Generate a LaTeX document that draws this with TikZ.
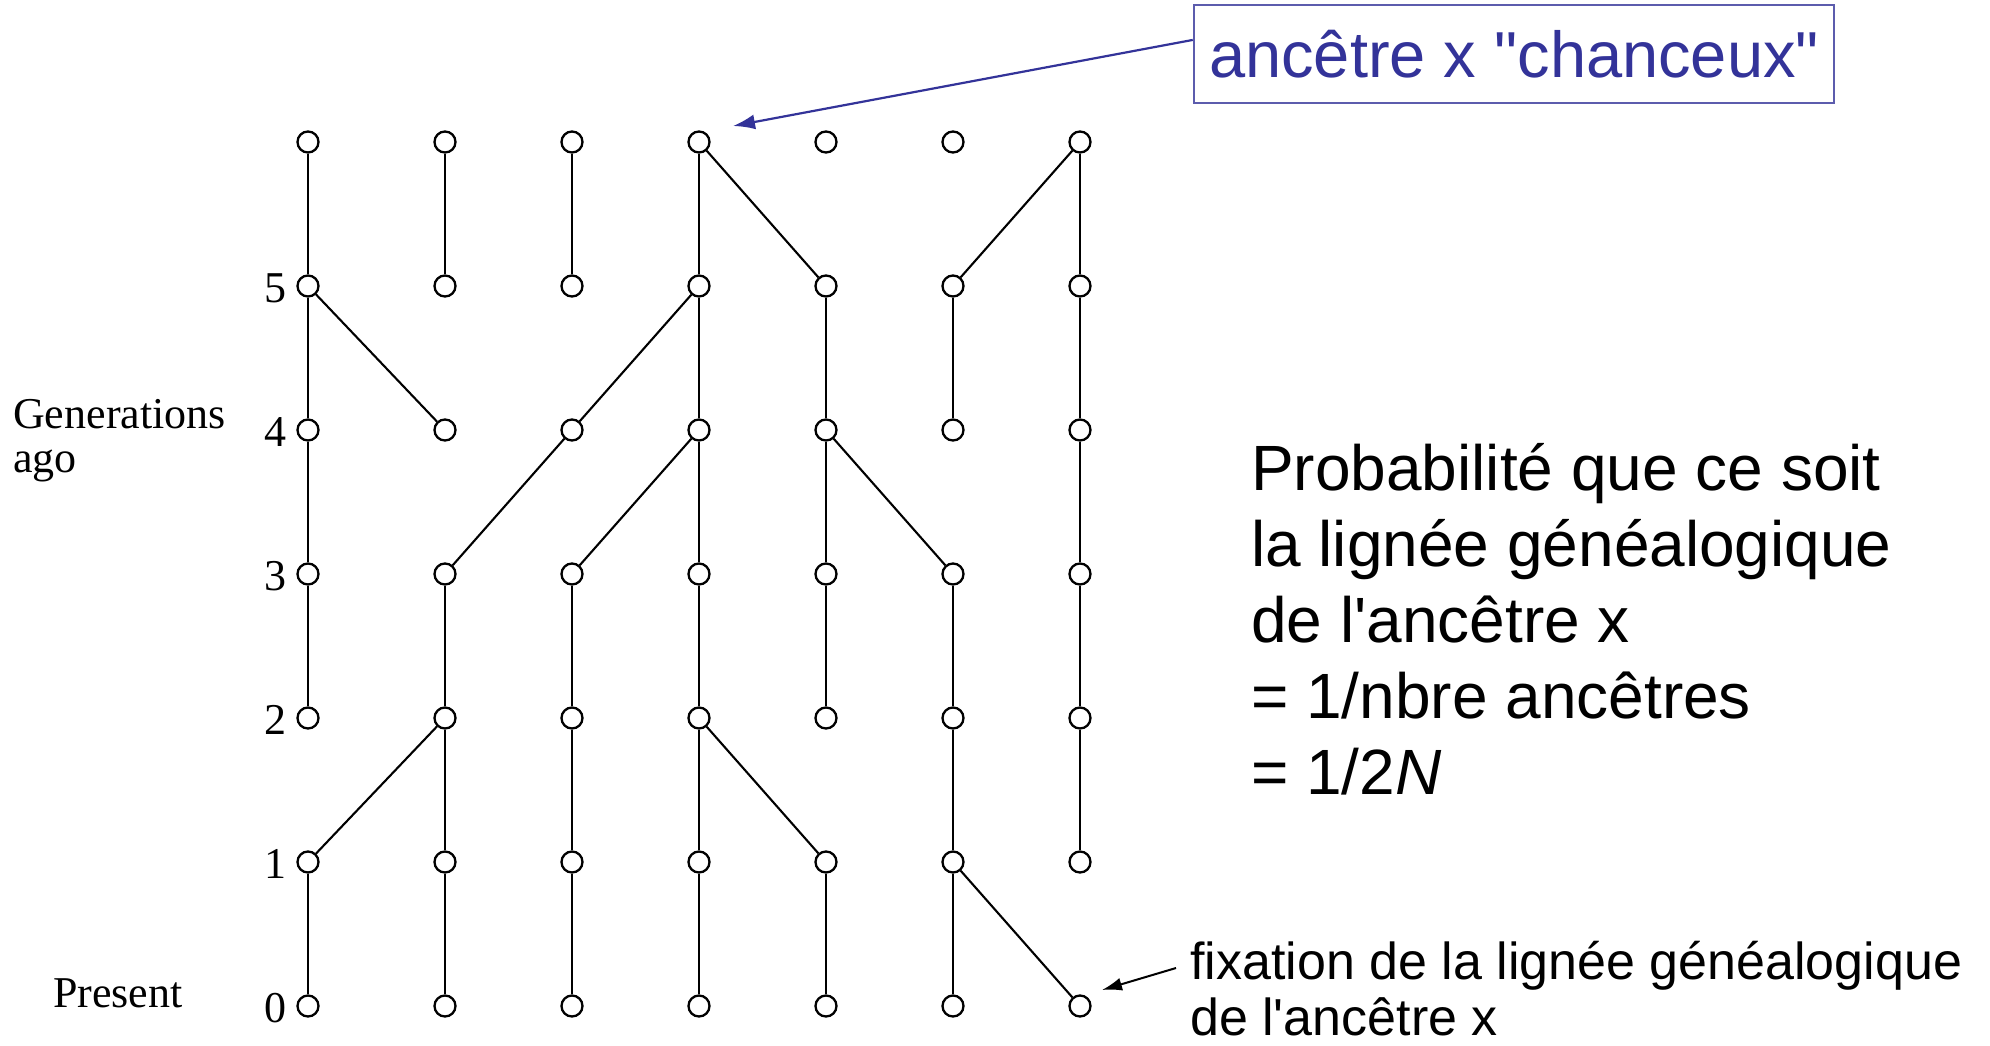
\documentclass[tikz,border=0pt]{standalone}
\usepackage{fontspec}
\setmainfont{Liberation Serif}
\newfontfamily\arial{Liberation Sans}
\usetikzlibrary{arrows.meta,calc}
\definecolor{pptblue}{HTML}{333399}
\begin{document}
\begin{tikzpicture}[x=1pt,y=-1pt,
  indiv/.style={circle,draw,line width=2.3pt,minimum size=21pt,inner sep=0pt},
  lin/.style={line width=2.1pt},
  gen/.style={font=\fontsize{44}{48}\selectfont,anchor=base east,inner sep=0pt},
  side/.style={font=\fontsize{44}{48}\selectfont,anchor=base west,inner sep=0pt},
  prob/.style={font=\arial\fontsize{64}{76}\selectfont,anchor=base west,inner sep=0pt},
  fixt/.style={font=\arial\fontsize{52}{60}\selectfont,anchor=base west,inner sep=0pt}]
\useasboundingbox (0,0) rectangle (1990,1045);

% individuals
\foreach \c/\x in {1/308,2/445,3/572,4/699,5/826,6/953,7/1080}
  \foreach \r in {0,...,6}
    \node[indiv] (n\c\r) at (\x,{142+144*(6-\r)}) {};

% genealogy links
\foreach \a/\b in {16/15,26/25,36/35,46/45,46/55,76/65,76/75,
                   15/14,15/24,45/34,45/44,55/54,65/64,75/74,
                   14/13,34/23,44/33,44/43,54/53,54/63,74/73,
                   13/12,23/22,33/32,43/42,53/52,63/62,73/72,
                   22/11,22/21,32/31,42/41,42/51,62/61,72/71,
                   11/10,21/20,31/30,41/40,51/50,61/60,61/70}
  \draw[lin] (n\a) -- (n\b);

% generation numbers
\foreach \r in {0,...,5}
  \node[gen] (g\r) at (287,{142+144*(6-\r)+16}) {\r};

\node[side] (gen1) at (13,428) {Generations};
\node[side] (gen2) at (13,472) {ago};
\node[side] (pres) at (53,1007) {Present};

% lucky ancestor box
\node[draw=pptblue!80,line width=2.5pt,text=pptblue,
      font=\arial\fontsize{65}{76}\selectfont,
      minimum width=640pt,minimum height=98pt,inner sep=0pt] (lucky) at (1514,54) {ancêtre x "chanceux"};
\coordinate (tipA) at (733,126);
\draw[pptblue,line width=2.2pt,-{Latex[length=22pt,width=15pt]}]
  ($(lucky.north west)!0.36!(lucky.south west)$) -- (tipA);

% probability text
\node[prob] (p1) at (1251,490) {Probabilité que ce soit};
\node[prob] (p2) at (1251,566) {la lignée généalogique};
\node[prob] (p3) at (1251,642) {de l\textquotesingle ancêtre x};
\node[prob] (p4) at (1251,718) {= 1/nbre ancêtres};
\node[prob] (p5) at (1251,794) {= 1/2\textit{N}};

% fixation text
\node[fixt] (f1) at (1190,979) {fixation de la lignée généalogique};
\node[fixt] (f2) at (1190,1035) {de l\textquotesingle ancêtre x};
\coordinate (fs) at ($(f1.base west)+(-14,-11)$);
\coordinate (tipB) at (1102,990);
\draw[line width=2pt,-{Latex[length=20pt,width=13pt]}] (fs) -- (tipB);
\end{tikzpicture}
\end{document}
